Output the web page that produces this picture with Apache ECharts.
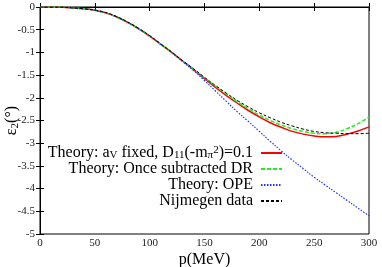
<!DOCTYPE html>
<html>
<head>
<meta charset="utf-8">
<script src="https://cdn.jsdelivr.net/npm/echarts@6/dist/echarts.min.js"></script>
<style>html,body{margin:0;padding:0;background:#fff;}#c{width:382px;height:267px;}</style>
</head>
<body>
<div id="c"></div>
<script>
const pValues = [0,10,20,30,40,50,60,70,80,90,100,110,120,130,140,150,160,170,180,190,200,210,220,230,240,250,260,270,280,290,300];
const theoryAvFixed = [0,0,-0.005,-0.02,-0.04,-0.07,-0.13,-0.22,-0.34,-0.48,-0.64,-0.82,-1.0,-1.19,-1.38,-1.58,-1.77,-1.95,-2.12,-2.28,-2.42,-2.55,-2.65,-2.74,-2.80,-2.84,-2.86,-2.85,-2.80,-2.73,-2.64];
const theoryOnceSubtracted = [0,0,-0.005,-0.02,-0.04,-0.07,-0.13,-0.22,-0.34,-0.48,-0.64,-0.82,-1.0,-1.19,-1.37,-1.56,-1.74,-1.92,-2.09,-2.24,-2.38,-2.50,-2.60,-2.68,-2.74,-2.78,-2.79,-2.76,-2.68,-2.57,-2.42];
const theoryOPE = [0,0,-0.005,-0.02,-0.04,-0.07,-0.13,-0.22,-0.34,-0.48,-0.64,-0.82,-1.0,-1.2,-1.40,-1.62,-1.85,-2.08,-2.31,-2.52,-2.74,-2.96,-3.17,-3.37,-3.56,-3.75,-3.92,-4.09,-4.26,-4.43,-4.60];
const nijmegen = [0,0,-0.005,-0.02,-0.04,-0.07,-0.12,-0.21,-0.33,-0.47,-0.63,-0.81,-0.99,-1.18,-1.36,-1.55,-1.73,-1.90,-2.06,-2.20,-2.33,-2.44,-2.54,-2.62,-2.69,-2.74,-2.77,-2.78,-2.79,-2.79,-2.78];
const seriesNames = ['Theory: a_V fixed', 'Theory: Once subtracted DR', 'Theory: OPE', 'Nijmegen data'];
const xTicks = [0,50,100,150,200,250,300];
const yTicks = [0,-0.5,-1,-1.5,-2,-2.5,-3,-3.5,-4,-4.5,-5];

function zip(xs, ys){ return xs.map((x,i)=>[x, ys[i]]); }
const serif = 'Liberation Serif';
const chart = echarts.init(document.getElementById('c'));
const subRich = {
  sub: {fontFamily: serif, fontSize: 11, lineHeight: 11, verticalAlign: 'bottom', color: '#000'},
  sup: {fontFamily: serif, fontSize: 11, lineHeight: 11, verticalAlign: 'top', color: '#000'},
  n: {fontFamily: serif, fontSize: 16, color: '#000'}
};
function fmtNum(v){ return String(v); }
chart.setOption({
  animation: false,
  backgroundColor: '#fff',
  grid: {left: 40, right: 13, top: 7, bottom: 33, show: true, borderColor: '#000', borderWidth: 1,
         containLabel: false, outerBoundsMode: 'none'},
  legend: {
    orient: 'vertical', align: 'right', right: 99, top: 145, padding: 0,
    itemWidth: 21, itemHeight: 10, itemGap: 0,
    itemStyle: {opacity: 0},
    textStyle: {fontFamily: serif, fontSize: 16, color: '#000', lineHeight: 16, rich: subRich, padding: [0, 3, 0, 0]},
    data: seriesNames,
    formatter: function(name){
      if (name === seriesNames[0]) return '{n|Theory: a}{sub|V}{n| fixed, D}{sub|11}{n|(-m}{sub|π}{sup|2}{n|)=0.1}';
      return name;
    }
  },
  xAxis: [{
    type: 'value', min: 0, max: 300, interval: 50,
    name: 'p(MeV)', nameLocation: 'middle', nameGap: 18, nameMoveOverlap: false,
    nameTextStyle: {fontFamily: serif, fontSize: 16, color: '#000'},
    axisLine: {lineStyle: {color: '#000'}},
    axisTick: {inside: true, length: 4, lineStyle: {color: '#000'}},
    axisLabel: {fontFamily: serif, fontSize: 11, color: '#222', margin: 4, formatter: fmtNum},
    splitLine: {show: false}
  }, {
    type: 'value', min: 0, max: 300, interval: 50, position: 'top',
    axisLine: {show: false}, axisTick: {inside: true, length: 4, lineStyle: {color: '#000'}},
    axisLabel: {show: false}, splitLine: {show: false}
  }],
  yAxis: [{
    type: 'value', min: -5, max: 0, interval: 0.5,
    name: '{n|ε}{sub|2}{n|(°)}', nameLocation: 'middle', nameGap: 19, nameRotate: 90, nameMoveOverlap: false,
    nameTextStyle: {fontFamily: serif, fontSize: 16, color: '#000', lineHeight: 18, rich: subRich},
    axisLine: {lineStyle: {color: '#000'}},
    axisTick: {inside: true, length: 4, lineStyle: {color: '#000'}},
    axisLabel: {fontFamily: serif, fontSize: 11, color: '#222', margin: 5, formatter: fmtNum},
    splitLine: {show: false}
  }, {
    type: 'value', min: -5, max: 0, interval: 0.5, position: 'right',
    axisLine: {show: false}, axisTick: {inside: true, length: 4, lineStyle: {color: '#000'}},
    axisLabel: {show: false}, splitLine: {show: false}
  }],
  series: [
    {name: seriesNames[0], type: 'line', data: zip(pValues, theoryAvFixed), showSymbol: false, symbol: 'none', smooth: 0.4,
     lineStyle: {color: '#ff0000', width: 1.5}, itemStyle: {color: '#ff0000'}},
    {name: seriesNames[1], type: 'line', data: zip(pValues, theoryOnceSubtracted), showSymbol: false, symbol: 'none', smooth: 0.4,
     lineStyle: {color: '#22ee22', width: 1.5, type: [4, 2]}, itemStyle: {color: '#22ee22'}},
    {name: seriesNames[2], type: 'line', data: zip(pValues, theoryOPE), showSymbol: false, symbol: 'none', smooth: 0.4,
     lineStyle: {color: '#2233ff', width: 1.2, type: [1.5, 1.5]}, itemStyle: {color: '#2233ff'}},
    {name: seriesNames[3], type: 'line', data: zip(pValues, nijmegen), showSymbol: false, symbol: 'none', smooth: 0.4,
     lineStyle: {color: '#000', width: 1, type: [3, 2]}, itemStyle: {color: '#000'}}
  ]
});
</script>
</body>
</html>
